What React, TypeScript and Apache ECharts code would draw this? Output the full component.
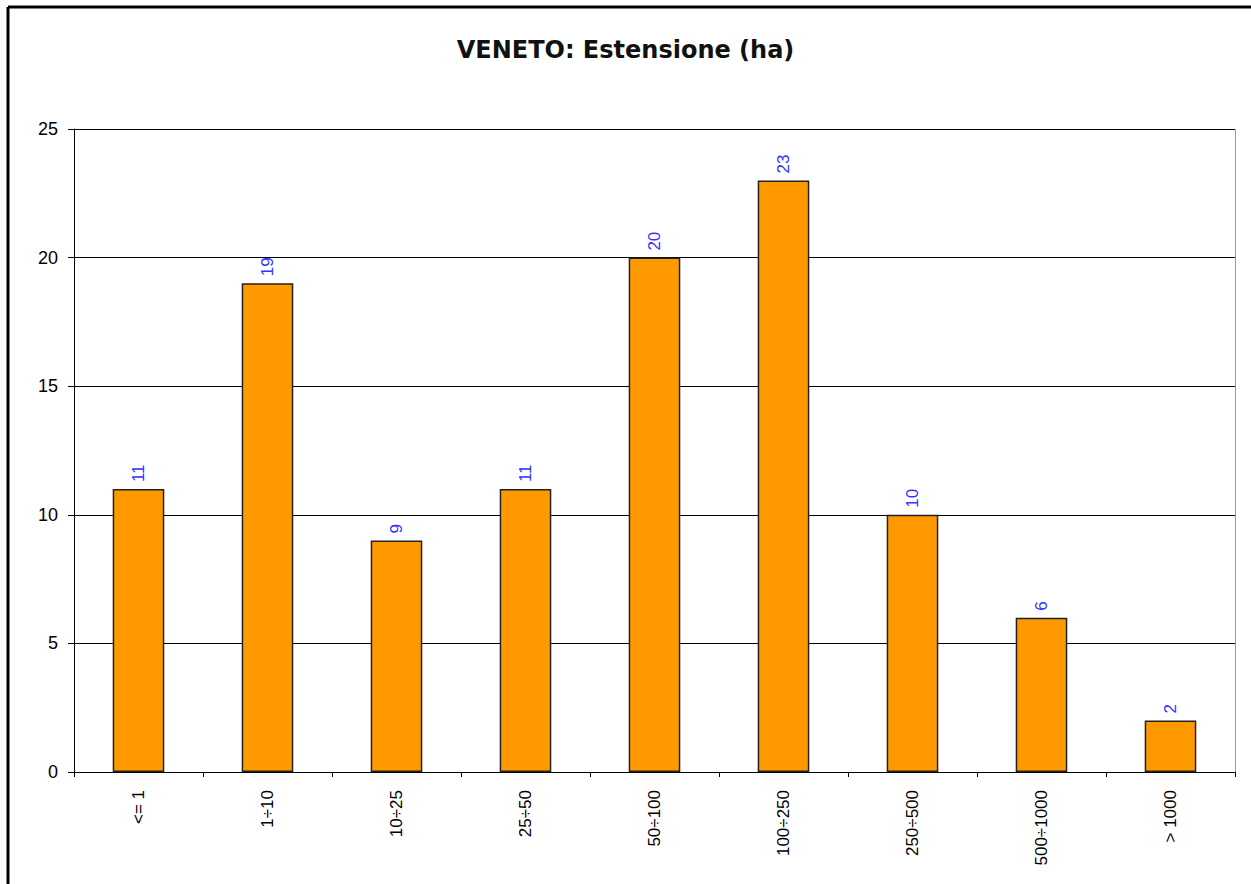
import React, { useEffect, useRef } from "react";
import * as echarts from "echarts";

const title = "VENETO: Estensione (ha)";
const categories = ["<= 1", "1÷10", "10÷25", "25÷50", "50÷100", "100÷250", "250÷500", "500÷1000", "> 1000"];
const values = [11, 19, 9, 11, 20, 23, 10, 6, 2];
const yTicks = { min: 0, max: 25, interval: 5 };

export default function App() {
  const ref = useRef<HTMLDivElement>(null);
  useEffect(() => {
    if (!ref.current) return;
    const chart = echarts.init(ref.current, undefined, { renderer: "svg" });
    chart.setOption({
      animation: false,
      backgroundColor: "#ffffff",
      title: {
        text: title,
        left: "center",
        top: 33,
        textStyle: { fontFamily: "DejaVu Sans", fontSize: 24, fontWeight: "bold", color: "#111" },
      },
      graphic: [
        { type: "line", shape: { x1: 8, y1: 7, x2: 1251, y2: 7 }, style: { stroke: "#000", lineWidth: 3 } },
        { type: "line", shape: { x1: 8, y1: 7, x2: 8, y2: 884 }, style: { stroke: "#000", lineWidth: 3 } },
        { type: "line", shape: { x1: 74, y1: 129.5, x2: 1235.5, y2: 129.5 }, style: { stroke: "#999", lineWidth: 1 } },
        { type: "line", shape: { x1: 1235.5, y1: 129.5, x2: 1235.5, y2: 772 }, style: { stroke: "#999", lineWidth: 1 } },
      ],
      grid: { left: 74, top: 129, right: 16, bottom: 112, containLabel: false },
      xAxis: {
        type: "category",
        data: categories,
        axisLine: { lineStyle: { color: "#000", width: 1 } },
        axisTick: { show: true, length: 5, lineStyle: { color: "#000" }, alignWithLabel: false },
        axisLabel: {
          rotate: 90,
          interval: 0,
          margin: 18,
          color: "#000",
          fontSize: 17,
          fontFamily: "Liberation Sans, Arial",
        },
      },
      yAxis: {
        type: "value",
        min: yTicks.min,
        max: yTicks.max,
        interval: yTicks.interval,
        axisLine: { show: true, lineStyle: { color: "#000", width: 1 } },
        axisTick: { show: true, length: 6, lineStyle: { color: "#000" } },
        axisLabel: { color: "#000", fontSize: 18, margin: 16, fontFamily: "Liberation Sans, Arial" },
        splitLine: { show: true, lineStyle: { color: "#000", width: 1 } },
      },
      series: [
        {
          type: "bar",
          data: values,
          barWidth: "40%",
          itemStyle: { color: "#FF9900", borderColor: "#222", borderWidth: 1.5 },
          label: {
            show: true,
            position: "top",
            rotate: 90,
            align: "left",
            verticalAlign: "middle",
            distance: 7,
            color: "#3333ff",
            fontSize: 17,
            fontFamily: "Liberation Sans, Arial",
          },
        },
      ],
    });
    return () => chart.dispose();
  }, []);
  return <div ref={ref} style={{ position: "fixed", left: 0, top: 0, width: 1251, height: 884 }} />;
}
